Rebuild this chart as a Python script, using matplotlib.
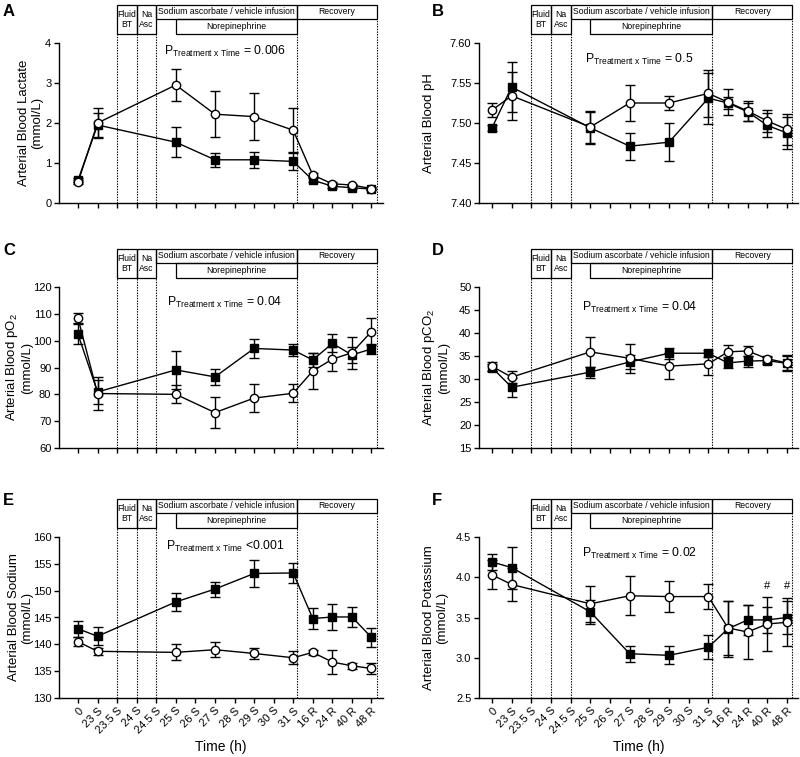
import numpy as np
import matplotlib
matplotlib.use('Agg')
import matplotlib.pyplot as plt
from matplotlib.patches import Rectangle
from matplotlib.transforms import blended_transform_factory

plt.rcParams['font.family'] = ['Liberation Sans', 'DejaVu Sans']
plt.rcParams['mathtext.fontset'] = 'custom'
plt.rcParams['mathtext.rm'] = 'Liberation Sans'
plt.rcParams['mathtext.it'] = 'Liberation Sans:italic'

time_labels = ['0', '23 S', '23.5 S', '24 S', '24.5 S', '25 S', '26 S', '27 S',
               '28 S', '29 S', '30 S', '31 S', '16 R', '24 R', '40 R', '48 R']
sampled = ['0', '23 S', '25 S', '27 S', '29 S', '31 S', '16 R', '24 R', '40 R', '48 R']

# filled squares (sq) and open circles (ci): mean and error bar half-width
lactate_sq = [0.57, 1.95, 1.52, 1.08, 1.08, 1.04, 0.57, 0.42, 0.38, 0.35]
lactate_sq_err = [0.05, 0.30, 0.38, 0.18, 0.20, 0.21, 0.05, 0.04, 0.04, 0.03]
lactate_ci = [0.52, 2.00, 2.95, 2.22, 2.16, 1.82, 0.70, 0.48, 0.45, 0.36]
lactate_ci_err = [0.05, 0.38, 0.40, 0.58, 0.59, 0.55, 0.06, 0.04, 0.03, 0.03]

ph_sq = [7.494, 7.545, 7.494, 7.471, 7.476, 7.531, 7.525, 7.514, 7.497, 7.4875]
ph_sq_err = [0.004, 0.031, 0.020, 0.017, 0.024, 0.032, 0.008, 0.011, 0.015, 0.020]
ph_ci = [7.516, 7.534, 7.495, 7.525, 7.525, 7.537, 7.526, 7.515, 7.5025, 7.492]
ph_ci_err = [0.009, 0.030, 0.020, 0.022, 0.009, 0.029, 0.016, 0.012, 0.014, 0.019]

po2_sq = [102.4, 80.9, 89.1, 86.5, 97.1, 96.5, 92.8, 99.0, 94.7, 96.9]
po2_sq_err = [3.7, 4.5, 7.2, 3.0, 3.5, 2.3, 2.5, 3.4, 3.0, 2.0]
po2_ci = [108.4, 80.3, 80.0, 73.2, 78.6, 80.4, 88.7, 93.1, 95.5, 103.4]
po2_ci_err = [1.9, 6.3, 3.4, 5.8, 5.3, 3.3, 6.7, 4.4, 6.0, 5.0]

pco2_sq = [32.5, 28.2, 31.5, 33.7, 35.6, 35.6, 33.5, 33.9, 34.0, 33.4]
pco2_sq_err = [0.8, 2.1, 1.2, 1.5, 1.2, 0.8, 1.2, 1.2, 0.7, 1.5]
pco2_ci = [32.75, 30.4, 35.9, 34.5, 32.8, 33.3, 35.9, 36.1, 34.4, 33.5]
pco2_ci_err = [1.0, 1.3, 3.2, 3.2, 2.8, 2.4, 1.4, 1.0, 0.6, 1.7]

na_sq = [142.9, 141.5, 147.9, 150.3, 153.2, 153.3, 144.8, 145.1, 145.1, 141.3]
na_sq_err = [1.5, 1.7, 1.6, 1.4, 2.5, 1.8, 2.0, 2.5, 1.8, 1.8]
na_ci = [140.5, 138.7, 138.5, 139.0, 138.3, 137.5, 138.5, 136.7, 136.0, 135.5]
na_ci_err = [0.8, 0.7, 1.5, 1.4, 1.1, 1.2, 0.5, 2.2, 0.6, 1.0]

k_sq = [4.19, 4.12, 3.57, 3.05, 3.03, 3.13, 3.36, 3.47, 3.47, 3.50]
k_sq_err = [0.10, 0.26, 0.15, 0.10, 0.11, 0.15, 0.35, 0.19, 0.16, 0.20]
k_ci = [4.03, 3.91, 3.67, 3.77, 3.76, 3.76, 3.37, 3.32, 3.42, 3.44]
k_ci_err = [0.18, 0.20, 0.22, 0.24, 0.19, 0.16, 0.33, 0.34, 0.34, 0.30]

p_texts = ['= 0.006', '= 0.5', '= 0.04', '= 0.04', '<0.001', '= 0.02']
hash_marks = ['40 R', '48 R']   # panel F

panels = [
    dict(letter='A', sq=lactate_sq, sqe=lactate_sq_err, ci=lactate_ci, cie=lactate_ci_err,
         ylim=(0, 4), yticks=np.arange(0, 4.1, 1), fmt='%d', ylabel='Arterial Blood Lactate\n(mmol/L)',
         py=3.8, lx=-0.049),
    dict(letter='B', sq=ph_sq, sqe=ph_sq_err, ci=ph_ci, cie=ph_ci_err,
         ylim=(7.40, 7.60), yticks=np.arange(7.40, 7.601, 0.05), fmt='%.2f', ylabel='Arterial Blood pH',
         py=7.579, lx=-0.138),
    dict(letter='C', sq=po2_sq, sqe=po2_sq_err, ci=po2_ci, cie=po2_ci_err,
         ylim=(60, 120), yticks=np.arange(60, 121, 10), fmt='%d', ylabel='Arterial Blood pO$_2$\n(mmol/L)',
         py=114.4, lx=-0.08),
    dict(letter='D', sq=pco2_sq, sqe=pco2_sq_err, ci=pco2_ci, cie=pco2_ci_err,
         ylim=(15, 50), yticks=np.arange(15, 51, 5), fmt='%d', ylabel='Arterial Blood pCO$_2$\n(mmol/L)',
         py=45.6, lx=-0.091),
    dict(letter='E', sq=na_sq, sqe=na_sq_err, ci=na_ci, cie=na_ci_err,
         ylim=(130, 160), yticks=np.arange(130, 161, 5), fmt='%d', ylabel='Arterial Blood Sodium\n(mmol/L)',
         py=158.3, lx=-0.08),
    dict(letter='F', sq=k_sq, sqe=k_sq_err, ci=k_ci, cie=k_ci_err,
         ylim=(2.5, 4.5), yticks=np.arange(2.5, 4.51, 0.5), fmt='%.1f', ylabel='Arterial Blood Potassium\n(mmol/L)',
         py=4.3, lx=-0.097),
]

W, H = 800, 757
fig = plt.figure(figsize=(W / 100, H / 100), dpi=100)

col_x = [(59, 383, -0.97, 15.59), (479, 798, -0.66, 15.56)]
row_y = [(43, 203), (287, 448), (537, 698)]
letter_pos = [(3, 4), (432, 4), (3, 243), (432, 243), (3, 493), (432, 493)]

xpos = np.arange(len(time_labels))
sx = [time_labels.index(t) for t in sampled]


def draw_header(ax):
    tr = blended_transform_factory(ax.transData, ax.transAxes)
    y0, y1, y2 = 1.056, 1.15, 1.2375
    boxes = [(2, 3, y0, y2, 'Fluid\nBT'), (3, 4, y0, y2, 'Na\nAsc'),
             (4, 11.2, y1, y2, 'Sodium ascorbate / vehicle infusion'),
             (11.2, 15.28, y1, y2, 'Recovery'), (5, 11.2, y0, y1, 'Norepinephrine')]
    for x0, x1, b, t, txt in boxes:
        ax.add_patch(Rectangle((x0, b), x1 - x0, t - b, transform=tr, fill=False,
                               lw=0.9, ec='black', clip_on=False))
        ax.text((x0 + x1) / 2, (b + t) / 2, txt, transform=tr, ha='center', va='center',
                fontsize=6.2, linespacing=1.1)
    for x, top in [(2, y0), (3, y0), (4, y0), (11.2, y0), (15.28, y1)]:
        ax.plot([x, x], [0, top], transform=tr, ls=(0, (1.2, 1.2)), lw=0.8,
                color='black', clip_on=False)


for i, p in enumerate(panels):
    r, c = divmod(i, 2)
    x0, x1, xl, xr = col_x[c]
    top, bot = row_y[r]
    ax = fig.add_axes([x0 / W, 1 - bot / H, (x1 - x0) / W, (bot - top) / H])

    ax.errorbar(sx, p['sq'], yerr=p['sqe'], fmt='-s', color='black', mfc='black', mec='black',
                ms=5.5, lw=1, elinewidth=1, capsize=3.5, capthick=1, zorder=3)
    ax.errorbar(sx, p['ci'], yerr=p['cie'], fmt='-o', color='black', mfc='white', mec='black',
                ms=6, mew=1, lw=1, elinewidth=1, capsize=3.5, capthick=1, zorder=4)

    ax.set_xlim(xl, xr)
    ax.set_ylim(*p['ylim'])
    ax.set_yticks(p['yticks'])
    ax.set_yticklabels([p['fmt'] % v for v in p['yticks']])
    ax.set_xticks(xpos)
    if r == 2:
        ax.set_xticklabels(time_labels, rotation=45, ha='right', rotation_mode='anchor')
        ax.set_xlabel('Time (h)', fontsize=10)
        ax.xaxis.set_label_coords(0.5, -0.26)
    else:
        ax.set_xticklabels([])

    for s in ['top', 'right']:
        ax.spines[s].set_visible(False)
    for s in ['left', 'bottom']:
        ax.spines[s].set_linewidth(1)
    ax.tick_params(direction='out', length=3.5, width=1, labelsize=8, pad=2)

    ax.set_ylabel(p['ylabel'], fontsize=9.5, linespacing=1.15)
    ax.yaxis.set_label_coords(p['lx'], 0.5)

    ax.text(7.5, p['py'], r'P$_{\mathrm{Treatment\ x\ Time}}$ ' + p_texts[i],
            ha='center', va='center', fontsize=8.8)

    if p['letter'] == 'F':
        for t in hash_marks:
            ax.text(time_labels.index(t), 3.89, '#', ha='center', va='center', fontsize=8)

    draw_header(ax)
    lx, ly = letter_pos[i]
    fig.text(lx / W, 1 - ly / H, p['letter'], fontsize=12, fontweight='bold', ha='left', va='top')

fig.savefig('out.png', dpi=100)
